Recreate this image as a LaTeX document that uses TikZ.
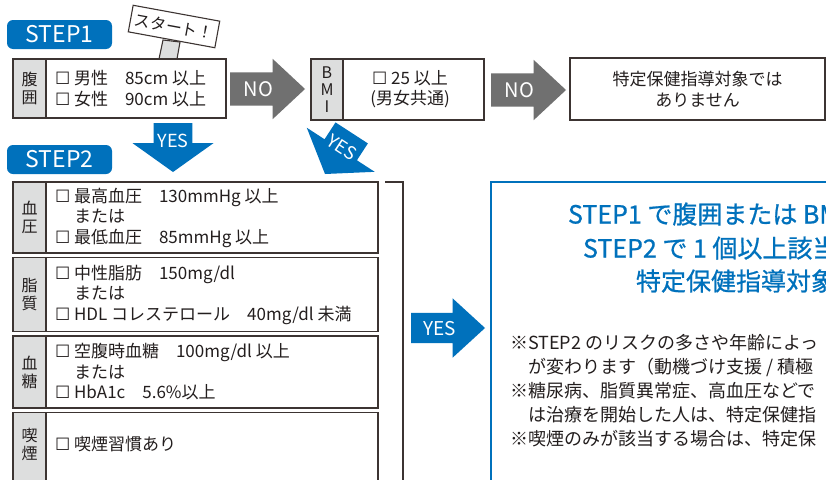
\documentclass[tikz,border=0pt]{standalone}
\usepackage{fontspec}
\setmainfont{Noto Sans CJK JP}
\newfontfamily\dejavu{DejaVu Sans}
\newfontfamily\headfont[FakeBold=0.8]{Noto Sans CJK JP}
\usetikzlibrary{positioning,shapes.arrows}
\definecolor{stepblue}{RGB}{0,113,188}
\definecolor{nogray}{RGB}{112,112,112}
\definecolor{labgray}{RGB}{221,222,222}
\definecolor{framecol}{RGB}{60,52,50}
\definecolor{inkcol}{RGB}{35,30,30}
\newcommand{\chk}{{\dejavu ☐}}
\newcommand{\ind}{\phantom{\chk\ }}

\begin{document}
\begin{tikzpicture}[x=1pt, y=-1pt,
  every node/.style={inner sep=0pt, outer sep=0pt, text=inkcol},
  steplabel/.style={fill=stepblue, rounded corners=6pt, minimum width=105pt, minimum height=29pt, text=white, font=\fontsize{23}{23}\selectfont},
  itembox/.style={draw=framecol, line width=1.4pt, fill=white, minimum width=365pt},
  labcol/.style={draw=framecol, line width=1.4pt, fill=labgray, minimum width=33pt, align=center, font=\fontsize{16}{18}\selectfont},
  itemtext/.style={align=left, font=\fontsize{17}{20.5}\selectfont},
  signbox/.style={draw=framecol, line width=1.1pt, fill=white, minimum width=88pt, minimum height=27pt, font=\fontsize{16}{16}\selectfont},
  postbar/.style={draw=framecol, line width=1.1pt, fill=labgray},
  noarrow/.style={single arrow, fill=nogray, text=white, font=\fontsize{20}{20}\selectfont, minimum height=75pt, minimum width=60pt, single arrow head extend=13.5pt, single arrow tip angle=86, text height=15pt, text depth=0pt, inner ysep=9pt},
  yesdown/.style={single arrow, shape border rotate=270, fill=stepblue, text=white, font=\fontsize{18}{18}\selectfont, minimum height=49pt, minimum width=81pt, single arrow head extend=20.5pt, single arrow tip angle=109, inner xsep=3pt, text height=13pt, text depth=0pt},
  yesright/.style={single arrow, fill=stepblue, text=white, font=\fontsize{19}{19}\selectfont, minimum height=74pt, minimum width=59pt, single arrow head extend=14.5pt, single arrow tip angle=85, text height=14pt, text depth=0pt, inner ysep=8pt},
  bracket/.style={draw=framecol, line width=2pt},
  headline/.style={font=\headfont\fontsize{25}{25}\selectfont, text=stepblue, text height=21pt, text depth=4pt},
  notetext/.style={align=left, font=\fontsize{18}{24}\selectfont}
]
\useasboundingbox (0,0) rectangle (826,479);
\fill[white] (0,0) rectangle (826,479);
\clip (0,0) rectangle (826,479);

% STEP1
\node[steplabel, anchor=north west] (step1) at (7,20) {STEP1};
\draw[postbar] (159,59) -- (163,40) -- (180,42) -- (177,59);
\node[signbox, rotate=-10.4] (sign) at (174,26.5) {スタート！};
\node[itembox, anchor=north west, minimum width=213pt, minimum height=59pt] (waist) at (13,59) {};
\node[labcol, anchor=north west, minimum height=59pt] (waistlab) at (waist.north west) {腹\\囲};
\node[itemtext, anchor=west] (waisttxt) at ([xshift=9pt]waistlab.east) {\chk\ 男性　85cm 以上\\\chk\ 女性　90cm 以上};
\node[noarrow, anchor=tip] (no1) at (305,89) {NO};

\node[itembox, anchor=north west, minimum width=173pt, minimum height=61pt] (bmi) at (311,59) {};
\node[labcol, anchor=north west, minimum width=32pt, minimum height=61pt, font=\fontsize{16}{17}\selectfont] (bmilab) at (bmi.north west) {B\\M\\I};
\node[itemtext, align=center] (bmitxt) at (410,89) {\chk\ 25 以上\\(男女共通)};
\node[noarrow, anchor=tip] (no2) at (566,90) {NO};

\node[itembox, anchor=north west, minimum width=255pt, minimum height=62pt] (notarget) at (570,58) {};
\node[itemtext, align=center] (notxt) at (notarget.center) {特定保健指導対象では\\ありません};

\node[yesdown, anchor=tip] (yes1) at (173,172) {YES};
\node[yesdown, rotate=-33, anchor=tip] (yes2) at (325,174) {YES};

% STEP2
\node[steplabel, anchor=north west] (step2) at (7,145) {STEP2};

\node[itembox, anchor=north west, minimum height=71pt] (bp) at (13,182) {};
\node[labcol, anchor=north west, minimum height=71pt] (bplab) at (bp.north west) {血\\圧};
\node[itemtext, anchor=west] (bptxt) at ([xshift=9pt]bplab.east) {\chk\ 最高血圧　130mmHg 以上\\\ind または\\\chk\ 最低血圧　85mmHg 以上};

\node[itembox, below=4.5pt of bp, minimum height=74pt] (lipid) {};
\node[labcol, anchor=north west, minimum height=74pt] (lipidlab) at (lipid.north west) {脂\\質};
\node[itemtext, anchor=west] (lipidtxt) at ([xshift=9pt]lipidlab.east) {\chk\ 中性脂肪　150mg/dl\\\ind または\\\chk\ HDL コレステロール　40mg/dl 未満};

\node[itembox, below=4.5pt of lipid, minimum height=72pt] (sugar) {};
\node[labcol, anchor=north west, minimum height=72pt] (sugarlab) at (sugar.north west) {血\\糖};
\node[itemtext, anchor=west] (sugartxt) at ([xshift=9pt]sugarlab.east) {\chk\ 空腹時血糖　100mg/dl 以上\\\ind または\\\chk\ HbA1c　5.6\%以上};

\node[itembox, below=4.5pt of sugar, minimum height=100pt] (smoke) {};
\node[labcol, anchor=north west, minimum height=100pt] (smokelab) at (smoke.north west) {};
\node[labcol, draw=none, fill=none] (smokename) at ([yshift=-32pt]smokelab.north) {喫\\煙};
\node[itemtext, anchor=west] (smoketxt) at ([xshift=9pt, yshift=-32pt]smokelab.north east) {\chk\ 喫煙習慣あり};

\draw[bracket] ([xshift=7pt]bp.north east) -- ++(18,0) -- ++(0,320);
\node[yesright, anchor=tip] (yes3) at (485,328) {YES};

% target
\node[draw=stepblue, line width=2pt, anchor=north west, minimum width=400pt, minimum height=330pt] (target) at (491,182) {};
\node[headline, anchor=west] (hl1) at (568,215) {STEP1 で腹囲または BMI};
\node[headline, anchor=west] (hl2) at (583,249) {STEP2 で 1 個以上該当};
\node[headline, anchor=west] (hl3) at (636,282) {特定保健指導対象};
\node[notetext, anchor=west] (notes) at (510,391) {※STEP2 のリスクの多さや年齢によっ\\　が変わります（動機づけ支援 / 積極\\※糖尿病、脂質異常症、高血圧などで\\　は治療を開始した人は、特定保健指\\※喫煙のみが該当する場合は、特定保};
\end{tikzpicture}
\end{document}
